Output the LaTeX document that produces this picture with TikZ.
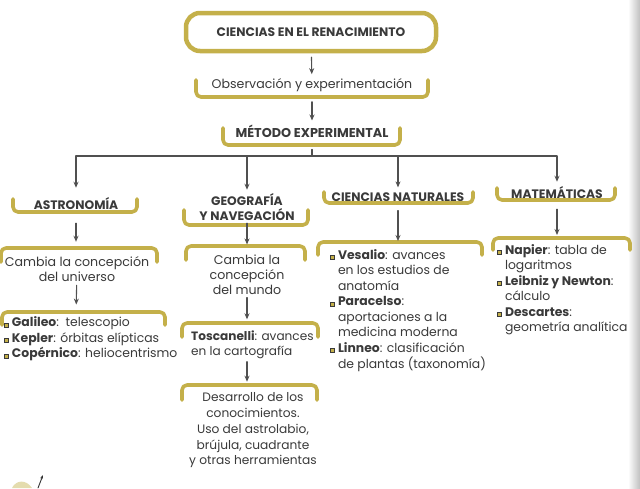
\documentclass[tikz,border=0pt]{standalone}
\usepackage{fontspec}
\setmainfont{Poppins}
\usetikzlibrary{arrows.meta,calc}

\definecolor{oro}{HTML}{C4B04A}
\definecolor{tinta}{HTML}{3A3A3A}
\definecolor{flecha}{HTML}{505050}

% viñeta cuadrada
\newcommand{\vin}{{\fboxsep=0pt\fboxrule=0.8pt\fcolorbox{tinta}{oro}{\rule{0pt}{3.2pt}\rule{3.2pt}{0pt}}}}
% corchete abierto hacia arriba / hacia abajo
\newcommand{\corchU}[4]{\draw[brak] (#1,#3) -- (#1,#4) -- (#2,#4) -- (#2,#3);}
\newcommand{\corchN}[4]{\draw[brak] (#1,#4) -- (#1,#3) -- (#2,#3) -- (#2,#4);}

\begin{document}
\begin{tikzpicture}[x=1pt, y=-1pt, line join=round, line cap=round,
    txt/.style={text=tinta, font=\fontsize{12.6}{15}\selectfont, inner sep=1pt},
    cat/.style={txt, font=\fontsize{12.3}{15}\selectfont\bfseries},
    lista/.style={txt, align=left, anchor=north west, font=\fontsize{12.4}{15.5}\selectfont},
    brak/.style={draw=oro, line width=3.6pt, rounded corners=5pt},
    arr/.style={draw=flecha, line width=1.1pt, -{Stealth[length=6pt,width=5pt]}},
    linea/.style={draw=flecha, line width=1.1pt}]
        \useasboundingbox (0,0) rectangle (640,488);
        \fill[white] (0,0) rectangle (640,488);
        \shade[left color=white, right color=black!25] (628,0) rectangle (640,488);

        % titulo y primer nivel
        \node[cat, draw=oro, line width=4.5pt, rounded corners=14pt,
              minimum width=250pt, minimum height=38pt] (titulo) at (311,32) {CIENCIAS EN EL RENACIMIENTO};
        \node[txt] (obs) at (312,85) {Observación y experimentación};
        \corchU{196}{428}{80}{97}
        \node[cat, font=\fontsize{12.8}{15}\selectfont\bfseries] (metodo) at (312,131) {MÉTODO EXPERIMENTAL};
        \corchU{223}{400}{128}{145}

        \draw[arr, shorten <=4pt, shorten >=3pt] (titulo) -- (obs);
        \draw[arr, shorten <=9pt, shorten >=3pt] (obs) -- (metodo);

        % ramas
        \node[cat] (astro) at (76,204) {ASTRONOMÍA};
        \corchU{13}{137}{199}{212}
        \node[cat, align=center] (geo) at (247,207.5) {GEOGRAFÍA\\Y NAVEGACIÓN};
        \corchU{184}{308}{210}{225}
        \node[cat] (nat) at (398,197) {CIENCIAS NATURALES};
        \corchU{324}{473}{192}{203}
        \node[cat] (mate) at (557,193) {MATEMÁTICAS};
        \corchU{497}{615}{188}{200}

        \coordinate (reparto) at (312,156);
        \draw[linea, shorten <=11pt] (metodo) -- (reparto);
        \draw[arr, shorten >=9pt] (reparto) -| (astro.north);
        \draw[arr, shorten >=3pt] (reparto) -| (geo.north);
        \draw[arr, shorten >=4pt] (reparto) -| (nat.north);
        \draw[arr, shorten >=4pt] (reparto) -| (mate.north);

        % astronomia
        \node[txt, align=center] (astroA) at (77,269.5) {Cambia la concepción\\del universo};
        \corchN{1}{157}{248}{262}
        \node[lista, anchor=west] (astroB) at (3,339) {%
            \begin{tabular}{@{}l@{\hspace{3pt}}l@{}}
            \vin & \textbf{Galileo}:\ \ telescopio\\
            \vin & \textbf{Kepler}: órbitas elípticas\\
            \vin & \textbf{Copérnico}: heliocentrismo
            \end{tabular}};
        \corchN{2}{165}{312}{325}
        \draw[arr, shorten <=12pt, shorten >=14pt] (astro) -- (astro |- astroA.north);
        \draw[arr, shorten <=2pt, shorten >=10pt] (astroA) -- (astro |- astroB.north);

        % geografia
        \node[txt, align=center] (geoA) at (247,274.5) {Cambia la\\concepción\\del mundo};
        \corchN{186}{305}{246}{260}
        \node[txt, align=left, anchor=west, font=\fontsize{12.1}{15}\selectfont] (geoB) at (190,344.5) {\textbf{Toscanelli}: avances\\en la cartografía};
        \corchN{182}{318}{323}{337}
        \node[txt, align=center, font=\fontsize{12.2}{15.75}\selectfont] (geoC) at (253,430.5)
            {Desarrollo de los\\conocimientos.\\Uso del astrolabio,\\brújula, cuadrante\\y otras herramientas};
        \corchN{182}{317}{385}{400}
        \draw[arr, shorten <=1pt, shorten >=9pt] (geo) -- (geo |- geoA.north);
        \draw[arr, shorten <=2pt, shorten >=10pt] (geoA) -- (geoA |- geoB.north);
        \draw[arr, shorten <=2pt, shorten >=10pt] (geoB.south -| geoA) -- (geoA |- geoC.north);

        % ciencias naturales
        \node[lista] (natA) at (329,247) {%
            \begin{tabular}{@{}l@{\hspace{3pt}}l@{}}
            \vin & \textbf{Vesalio}: avances\\
                 & en los estudios de\\
                 & anatomía\\
            \vin & \textbf{Paracelso}:\\
                 & aportaciones a la\\
                 & medicina moderna\\
            \vin & \textbf{Linneo}: clasificación\\
                 & de plantas (taxonomía)
            \end{tabular}};
        \corchN{318}{482}{242}{255}
        \draw[arr, shorten <=8pt, shorten >=6pt] (nat) -- (nat |- natA.north);

        % matematicas
        \node[lista] (mateA) at (496,242) {%
            \begin{tabular}{@{}l@{\hspace{3pt}}l@{}}
            \vin & \textbf{Napier}: tabla de\\
                 & logaritmos\\
            \vin & \textbf{Leibniz y Newton}:\\
                 & cálculo\\
            \vin & \textbf{Descartes}:\\
                 & geometría analítica
            \end{tabular}};
        \corchN{493}{630}{238}{250}
        \draw[arr, shorten <=9pt, shorten >=7pt] (mate) -- (mate |- mateA.north);

        % resto de ilustracion
        \fill[oro!45] (12,488) .. controls (16,480) and (26,479) .. (32,488) -- cycle;
        \draw[black!80, line width=0.9pt, -{Stealth[length=4pt,width=3pt]}] (38,488) -- (43,475);
\end{tikzpicture}
\end{document}
